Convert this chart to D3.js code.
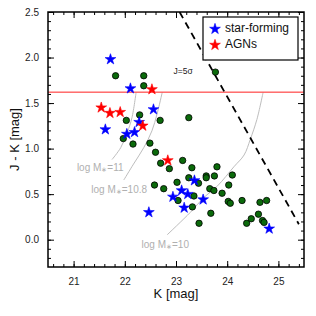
<!DOCTYPE html>
<html>
<head>
<meta charset="utf-8">
<script src="https://cdn.jsdelivr.net/npm/d3@7"></script>
<style>
  body { margin: 0; background: #fff; }
  svg { font-family: "Liberation Sans", Arial, sans-serif; }
</style>
</head>
<body>
<div id="grafico"></div>
<script>
// green dots: [K, J-K]
var galaxias = [
  [21.82, 1.80], [22.37, 1.80], [22.37, 1.69], [23.77, 1.84], [22.29, 1.37],
  [22.03, 1.31], [22.69, 1.31], [23.25, 1.34], [21.97, 1.11], [22.16, 1.05],
  [22.49, 1.06], [22.60, 0.96], [22.70, 0.84], [22.87, 0.78], [23.13, 0.87],
  [23.31, 0.79], [23.80, 0.80], [23.02, 0.63], [23.25, 0.68], [23.44, 0.62],
  [23.59, 0.70], [23.59, 0.68], [23.75, 0.70], [24.10, 0.71], [22.58, 0.60],
  [22.76, 0.56], [23.66, 0.56], [23.74, 0.54], [23.90, 0.51], [24.03, 0.60],
  [24.02, 0.42], [24.06, 0.40], [24.29, 0.43], [24.64, 0.41], [24.77, 0.43],
  [23.04, 0.43], [23.35, 0.48], [23.32, 0.36], [23.68, 0.29], [23.45, 0.18],
  [24.38, 0.18], [24.47, 0.23], [24.61, 0.28], [24.69, 0.21], [24.72, 0.19]
];

var starForming = [
  [21.72, 1.98], [22.11, 1.66], [22.56, 1.43], [21.62, 1.21], [22.04, 1.16],
  [22.19, 1.18], [22.28, 1.29], [23.36, 0.65], [23.11, 0.54], [23.23, 0.50],
  [22.94, 0.47], [23.53, 0.44], [23.16, 0.35], [22.47, 0.30], [24.82, 0.12]
];

var agns = [
  [22.53, 1.65], [21.54, 1.45], [21.71, 1.39], [21.91, 1.40], [22.35, 1.25],
  [22.84, 0.87]
];

// mass tracks
var curvaM11 = [[22.22, 1.615], [22.14, 1.34], [22.05, 1.18], [21.92, 1.01], [21.75, 0.88]];
var curvaM108 = [[22.73, 1.615], [22.63, 1.38], [22.53, 1.195], [22.37, 1.01], [22.17, 0.83], [21.98, 0.655]];
var curvaM10 = [[24.70, 1.615], [24.58, 1.32], [24.45, 1.10], [24.33, 0.93], [24.13, 0.80],
  [23.81, 0.59], [23.54, 0.46], [23.28, 0.30], [22.83, 0.055]];

var etiquetasCurvas = ["11", "10.8", "10"];
var limiteRojo = 1.62;
var limiteJ = 25.57; // J = 5 sigma -> J-K = limiteJ - K

var xTicks = [21, 22, 23, 24, 25];
var yTicks = [0.0, 0.5, 1.0, 1.5, 2.0, 2.5];

var ancho = 316, alto = 316;
var margen = { left: 48, right: 12, top: 12, bottom: 49 };

var svg = d3.select("#grafico").append("svg")
  .attr("width", ancho)
  .attr("height", alto);

var x = d3.scaleLinear().domain([20.5, 25.5]).range([margen.left, ancho - margen.right]);
var y = d3.scaleLinear().domain([-0.3, 2.5]).range([alto - margen.bottom, margen.top]);

var linea = d3.line()
  .x(function (d) { return x(d[0]); })
  .y(function (d) { return y(d[1]); })
  .curve(d3.curveCatmullRom);

var plot = svg.append("g");

// clip to the frame
svg.append("clipPath").attr("id", "marco")
  .append("rect")
  .attr("x", x(20.5)).attr("y", y(2.5))
  .attr("width", x(25.5) - x(20.5)).attr("height", y(-0.3) - y(2.5));
plot.attr("clip-path", "url(#marco)");

// grey mass curves
[curvaM11, curvaM108, curvaM10].forEach(function (c) {
  plot.append("path")
    .datum(c)
    .attr("d", linea)
    .attr("fill", "none")
    .attr("stroke", "#bdbdbd")
    .attr("stroke-width", 1);
});

// horizontal red line
plot.append("line")
  .attr("x1", x(20.5)).attr("x2", x(25.5))
  .attr("y1", y(limiteRojo)).attr("y2", y(limiteRojo))
  .attr("stroke", "#ff2020")
  .attr("stroke-width", 1);

// J = 5 sigma dashed line
plot.append("line")
  .attr("x1", x(limiteJ - 2.5)).attr("y1", y(2.5))
  .attr("x2", x(25.4)).attr("y2", y(limiteJ - 25.4))
  .attr("stroke", "#000")
  .attr("stroke-width", 1.8)
  .attr("stroke-dasharray", "7,5");

// green points
plot.selectAll(".gal")
  .data(galaxias)
  .enter()
  .append("circle")
  .attr("class", "gal")
  .attr("cx", function (d) { return x(d[0]); })
  .attr("cy", function (d) { return y(d[1]); })
  .attr("r", 3.2)
  .attr("fill", "#0b6a0b")
  .attr("stroke", "#000")
  .attr("stroke-width", 0.8);

var estrella = d3.symbol().type(d3.symbolStar).size(36);

function dibujarEstrellas(datos, color) {
  plot.selectAll(null)
    .data(datos)
    .enter()
    .append("path")
    .attr("d", estrella)
    .attr("transform", function (d) { return "translate(" + x(d[0]) + "," + y(d[1]) + ")"; })
    .attr("fill", color)
    .attr("stroke", color)
    .attr("stroke-width", 0.6);
}
dibujarEstrellas(starForming, "#0000ff");
dibujarEstrellas(agns, "#ff0000");

// curve labels
var posEtiquetas = [[21.52, 0.79], [21.89, 0.55], [22.79, -0.055]];
posEtiquetas.forEach(function (p, i) {
  var t = svg.append("text")
    .attr("x", x(p[0]))
    .attr("y", y(p[1]))
    .attr("text-anchor", "middle")
    .attr("dominant-baseline", "middle")
    .attr("font-size", 10)
    .attr("fill", "#b0b0b0");
  t.append("tspan").text("log M");
  t.append("tspan").attr("font-size", 7).attr("dy", 2).text("\u2217");
  t.append("tspan").attr("dy", -2).text("=" + etiquetasCurvas[i]);
});

svg.append("text")
  .attr("x", x(23.14))
  .attr("y", y(1.84))
  .attr("text-anchor", "middle")
  .attr("dominant-baseline", "middle")
  .attr("font-size", 8.5)
  .attr("fill", "#222")
  .text("J=5\u03c3");

// axes with inward ticks on four sides
function ejes() {
  var xMenor = d3.range(20.6, 25.5, 0.2);
  var yMenor = d3.range(-0.2, 2.5, 0.1);
  svg.append("g").attr("transform", "translate(0," + y(-0.3) + ")")
    .call(d3.axisBottom(x).tickValues(xMenor).tickSize(-3).tickFormat(""));
  svg.append("g").attr("transform", "translate(0," + y(2.5) + ")")
    .call(d3.axisTop(x).tickValues(xMenor).tickSize(-3).tickFormat(""));
  svg.append("g").attr("transform", "translate(" + x(20.5) + ",0)")
    .call(d3.axisLeft(y).tickValues(yMenor).tickSize(-3).tickFormat(""));
  svg.append("g").attr("transform", "translate(" + x(25.5) + ",0)")
    .call(d3.axisRight(y).tickValues(yMenor).tickSize(-3).tickFormat(""));

  svg.append("g").attr("class", "lbl").attr("transform", "translate(0," + y(-0.3) + ")")
    .call(d3.axisBottom(x).tickValues(xTicks).tickSize(-6).tickPadding(11).tickFormat(d3.format("d")));
  svg.append("g").attr("transform", "translate(0," + y(2.5) + ")")
    .call(d3.axisTop(x).tickValues(xTicks).tickSize(-6).tickFormat(""));
  svg.append("g").attr("class", "lbl").attr("transform", "translate(" + x(20.5) + ",0)")
    .call(d3.axisLeft(y).tickValues(yTicks).tickSize(-6).tickPadding(9).tickFormat(d3.format(".1f")));
  svg.append("g").attr("transform", "translate(" + x(25.5) + ",0)")
    .call(d3.axisRight(y).tickValues(yTicks).tickSize(-6).tickFormat(""));

  svg.selectAll(".domain").remove();
  svg.selectAll(".tick line").attr("stroke", "#000").attr("stroke-width", 1);
  svg.selectAll(".lbl text").attr("font-size", 10).attr("fill", "#222")
    .attr("font-family", "Liberation Sans, Arial, sans-serif");

  svg.append("rect")
    .attr("x", x(20.5)).attr("y", y(2.5))
    .attr("width", x(25.5) - x(20.5)).attr("height", y(-0.3) - y(2.5))
    .attr("fill", "none")
    .attr("stroke", "#000")
    .attr("stroke-width", 1.5);
}
ejes();

svg.append("text")
  .attr("x", (x(20.5) + x(25.5)) / 2)
  .attr("y", 298)
  .attr("text-anchor", "middle")
  .attr("font-size", 13)
  .attr("fill", "#111")
  .text("K [mag]");

svg.append("text")
  .attr("transform", "translate(19," + (y(-0.3) + y(2.5)) / 2 + ") rotate(-90)")
  .attr("text-anchor", "middle")
  .attr("font-size", 13)
  .attr("fill", "#111")
  .text("J - K [mag]");

// legend
var leyenda = svg.append("g");
leyenda.append("rect")
  .attr("x", 203).attr("y", 17)
  .attr("width", 95).attr("height", 43)
  .attr("fill", "#fff")
  .attr("stroke", "#000")
  .attr("stroke-width", 1.2);
var itemsLeyenda = [["star-forming", "#0000ff"], ["AGNs", "#ff0000"]];
var filas = leyenda.selectAll(".item")
  .data(itemsLeyenda)
  .enter()
  .append("g")
  .attr("class", "item")
  .attr("transform", function (d, i) { return "translate(215," + (29 + i * 16) + ")"; });
filas.append("path")
  .attr("d", estrella)
  .attr("fill", function (d) { return d[1]; })
  .attr("stroke", function (d) { return d[1]; })
  .attr("stroke-width", 0.6);
filas.append("text")
  .attr("x", 10)
  .attr("dominant-baseline", "middle")
  .attr("font-size", 12)
  .attr("fill", "#111")
  .text(function (d) { return d[0]; });
</script>
</body>
</html>
